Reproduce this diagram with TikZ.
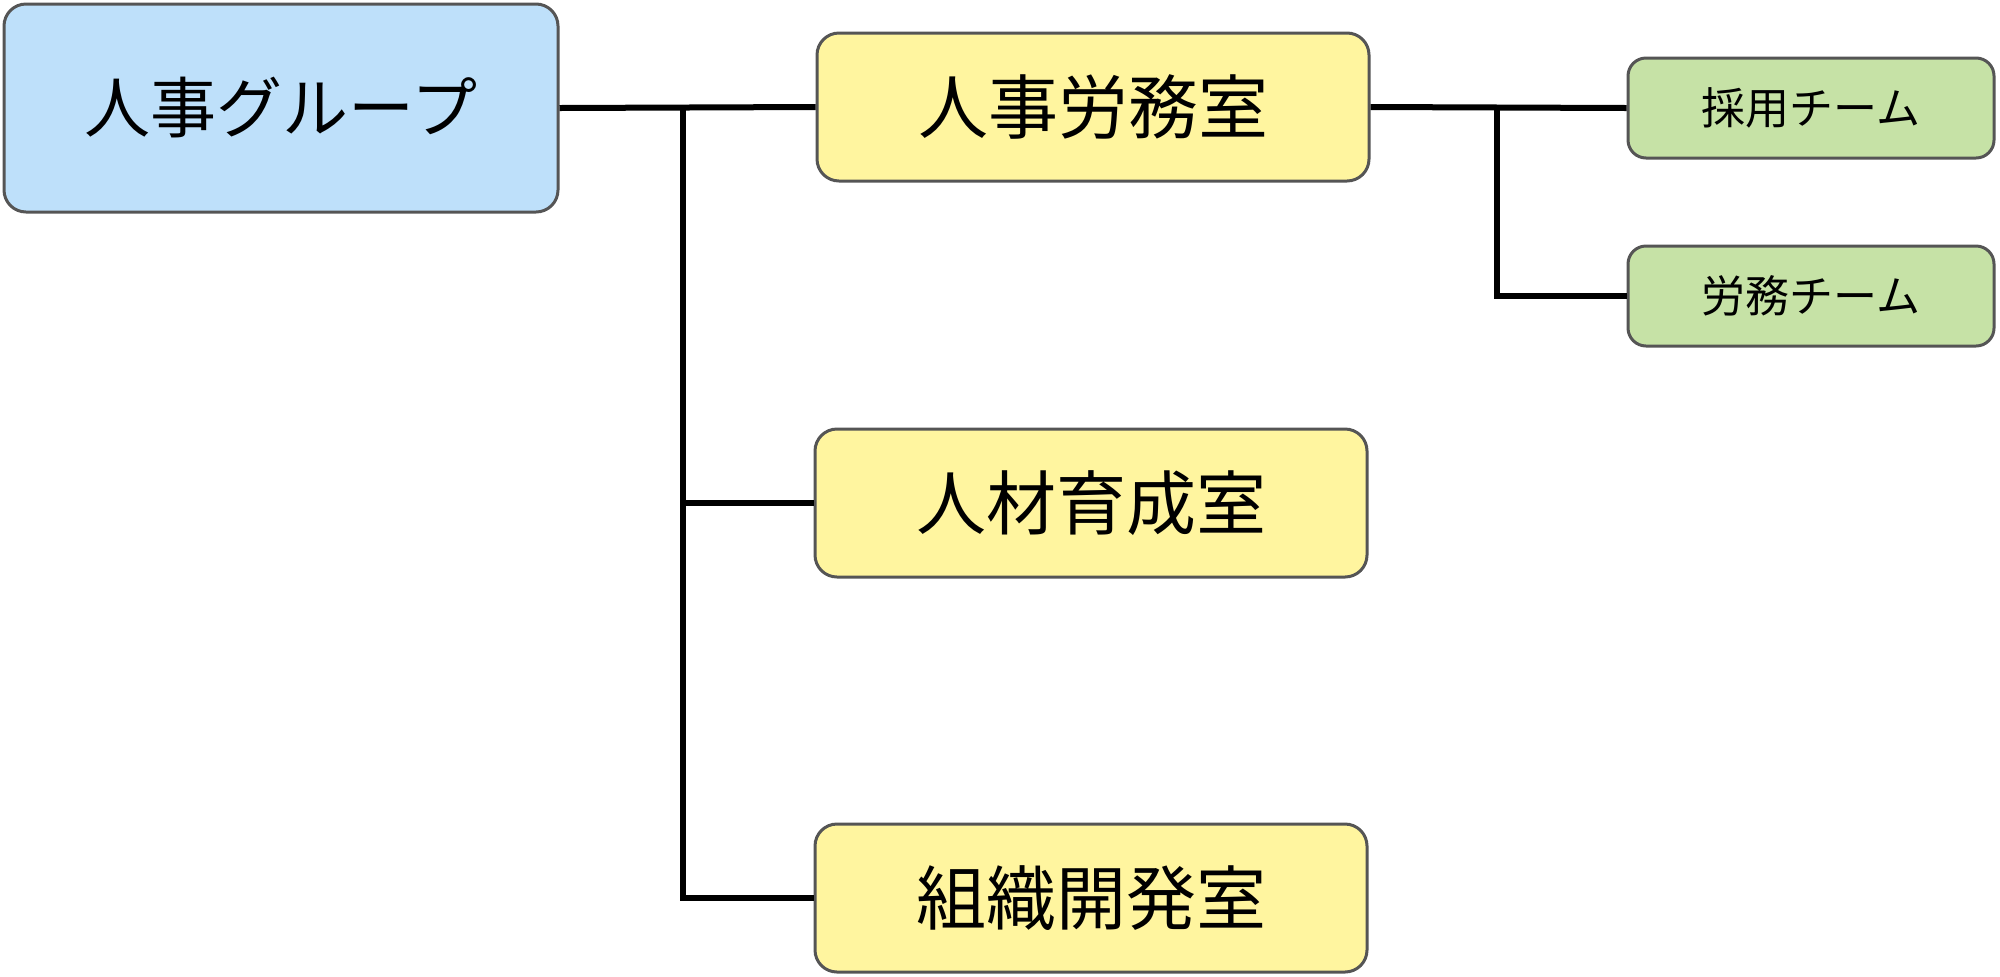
\documentclass[tikz,border=0pt]{standalone}
\usepackage{fontspec}
\setmainfont{Noto Sans CJK JP}
\definecolor{hrblue}{HTML}{BEE0FA}
\definecolor{roomyellow}{HTML}{FFF59F}
\definecolor{teamgreen}{HTML}{C6E2A6}
\definecolor{boxborder}{HTML}{555555}
\tikzset{
  box/.style={draw=boxborder, line width=1.5pt, rounded corners=11pt, inner sep=0pt, align=center},
  topbox/.style={box, fill=hrblue, minimum width=277pt, minimum height=104pt, font=\fontsize{33}{38}\selectfont},
  roombox/.style={box, fill=roomyellow, minimum width=276pt, minimum height=74pt, font=\fontsize{35}{40}\selectfont},
  teambox/.style={box, fill=teamgreen, minimum width=183pt, minimum height=50pt, rounded corners=9pt, font=\fontsize{22}{26}\selectfont},
  link/.style={draw=black, line width=3pt}
}
\begin{document}
\begin{tikzpicture}[x=0.5pt, y=-0.5pt]
\useasboundingbox (0,0) rectangle (2000,976);
\node[topbox] (hr) at (281,108) {人事グループ};
\node[roombox] (roumu) at (1093,107) {人事労務室};
\node[roombox] (jinzai) at (1091,503) {人材育成室};
\node[roombox] (soshiki) at (1091,898) {組織開発室};
\node[teambox] (saiyou) at (1811,108) {採用チーム};
\node[teambox] (rteam) at (1811,296) {労務チーム};
\coordinate (t1) at (683,108);
\coordinate (t2) at (1497,108);
\draw[link] (hr.east) -- (roumu.west);
\draw[link] (t1) |- (soshiki.west);
\draw[link] (t1 |- jinzai.west) -- (jinzai.west);
\draw[link] (roumu.east) -- (saiyou.west);
\draw[link] (t2) |- (rteam.west);
\end{tikzpicture}
\end{document}
